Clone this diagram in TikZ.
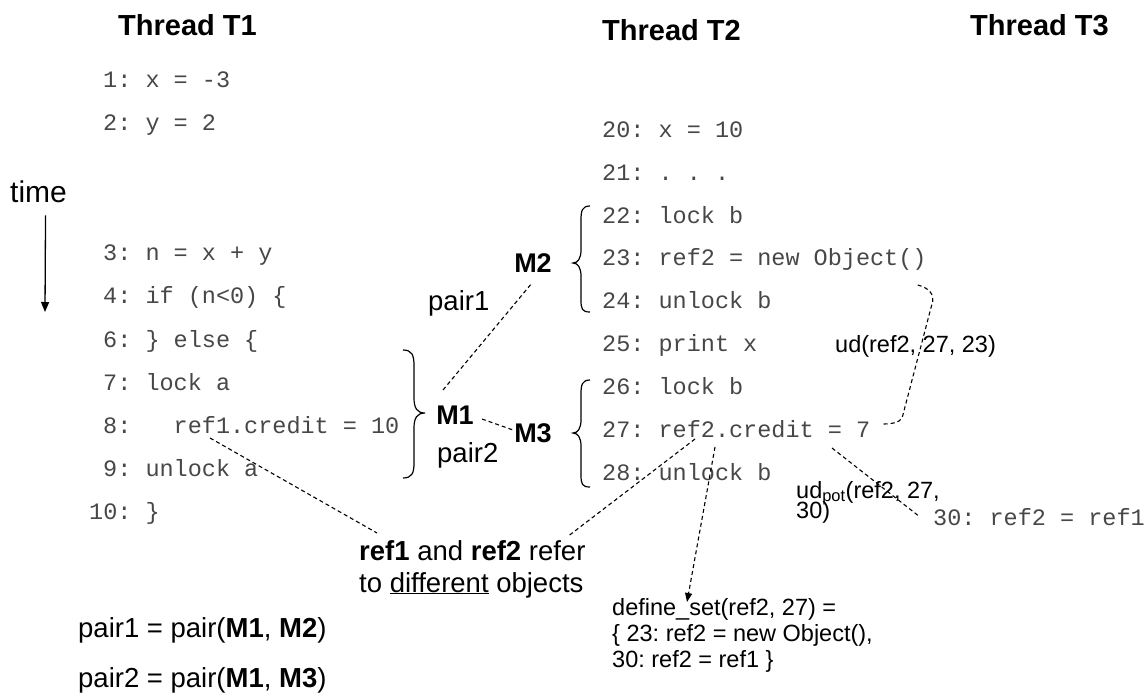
\documentclass[tikz,border=0pt]{standalone}
\usepackage{fontspec}
\setmainfont{Liberation Sans}
\newfontfamily\codefont{Liberation Mono}
\usetikzlibrary{calc,arrows.meta}
\frenchspacing
\tikzset{
  code/.style={font=\codefont\fontsize{23.5}{28}\selectfont\frenchspacing, text=black!72, inner sep=0pt, anchor=base west},
  lab/.style={font=\fontsize{27.5}{33}\selectfont\frenchspacing, inner sep=0pt, anchor=base west},
  sml/.style={font=\fontsize{23.5}{26}\selectfont\frenchspacing, inner sep=0pt, anchor=base west},
  ttl/.style={font=\bfseries\fontsize{29}{34}\selectfont, inner sep=0pt, anchor=base west},
  mlab/.style={font=\bfseries\fontsize{27}{32}\selectfont, inner sep=0pt},
  dsh/.style={dash pattern=on 4pt off 3pt, line width=1.1pt},
  brc/.style={line width=1.2pt},
}
\begin{document}
\begin{tikzpicture}[x=1pt,y=-1pt]
\useasboundingbox (0,0) rectangle (1147,693);
% titles
\node[ttl] (T1) at (118,36) {Thread T1};
\node[ttl] (T2) at (602,41) {Thread T2};
\node[ttl] (T3) at (970,36) {Thread T3};
% time
\node[lab, font=\fontsize{30}{34}\selectfont] (time) at (10,202) {time};
\coordinate (tend) at (45,312);
\draw[line width=1.3pt,-{Triangle[length=10pt,width=8pt]}] ($(time.south)+(7,13)$) -- (tend);
% thread 1
\node[code] (l1) at (103,87) {1: x = -3};
\node[code] (l2) at (103,130) {2: y = 2};
\node[code] (l3) at (103,260) {3: n = x + y};
\node[code] (l4) at (103,303) {4: if (n<0) \{};
\node[code] (l6) at (103,347) {6: \} else \{};
\node[code] (l7) at (103,390) {7: lock a};
\node[code] (l8) at (103,433) {8:\ \ \ ref1.credit = 10};
\node[code] (l9) at (103,476) {9: unlock a};
\node[code] (l10) at (89,519) {10: \}};
% thread 2
\node[code] (l20) at (602,137) {20: x = 10};
\node[code] (l21) at (602,180) {21: . . .};
\node[code] (l22) at (602,223) {22: lock b};
\node[code] (l23) at (602,265) {23: ref2 = new Object()};
\node[code] (l24) at (602,308) {24: unlock b};
\node[code] (l25) at (602,351) {25: print x};
\node[code] (l26) at (602,394) {26: lock b};
\node[code] (l27) at (602,437) {27: ref2.credit = 7};
\node[code] (l28) at (602,480) {28: unlock b};
% thread 3
\node[code] (l30) at (933,525) {30: ref2 = ref1};
% braces
\draw[brc] (403,350) .. controls (412,350) and (414,355) .. (414,366) -- (414,398)
  .. controls (414,408) and (417,413) .. (425,413)
  .. controls (417,413) and (414,418) .. (414,428) -- (414,463)
  .. controls (414,473) and (412,478) .. (403,478);
\draw[brc] (590,206) .. controls (582,206) and (581,211) .. (581,220) -- (581,250)
  .. controls (581,258) and (578,263) .. (573,263)
  .. controls (578,263) and (581,268) .. (581,276) -- (581,300)
  .. controls (581,309) and (582,312) .. (590,312);
\draw[brc] (590,380) .. controls (582,380) and (581,385) .. (581,394) -- (581,420)
  .. controls (581,428) and (578,433) .. (573,433)
  .. controls (578,433) and (581,438) .. (581,446) -- (581,475)
  .. controls (581,484) and (582,487) .. (590,487);
% M labels
\node[mlab] (M1) at (455,415) {M1};
\node[mlab] (M2) at (533,263) {M2};
\node[mlab] (M3) at (533,433) {M3};
\node[lab] (pair1) at (428,310) {pair1};
\node[lab] (pair2) at (437,462) {pair2};
\draw[dsh] ($(M1.center)+(-12,-25)$) -- ($(M2.center)+(-1,20)$);
\draw[dsh] ($(M1.center)+(27,4)$) -- ($(M3.center)+(-20,-3)$);
% note
\node[lab] (n1) at (359,560) {\textbf{ref1} and \textbf{ref2} refer};
\node[lab] (n2) at (359,592) {to \underline{different} objects};
\draw[dsh] ($(l8.base west)+(107,5)$) -- ($(n1.base west)+(18,-27)$);
\draw[dsh] ($(l27.base west)+(93,2)$) -- ($(n1.base east)+(-16,-25)$);
% define set
\node[sml] (d1) at (612,615) {define\_set(ref2, 27) =};
\node[sml] (d2) at (612,641) {\{ 23: ref2 = new Object(),};
\node[sml] (d3) at (612,667) {30: ref2 = ref1 \}};
\draw[dsh,-{Triangle[length=9pt,width=7pt]}] ($(l27.base west)+(113,10)$) -- ($(d1.base west)+(75,-13)$);
% ud
\node[sml] (ud) at (835,352) {ud(ref2, 27, 23)};
\draw[dsh] ($(l23.base east)+(-9,20)$) .. controls +(12,3) and +(1,-6) .. ($(l23.base east)+(6,36)$)
  -- ($(l27.base east)+(32,-20)$) .. controls +(-2,6) and +(8,0) .. ($(l27.base east)+(12,-13)$);
% udpot
\node[sml] (up1) at (796,498) {ud\textsubscript{pot}(ref2, 27,};
\node[sml] (up2) at (796,518) {30)};
\draw[dsh] ($(l27.base west)+(230,11)$) -- ($(l30.base west)+(-13,-8)$);
% pairs
\node[lab] (p1) at (78,637) {pair1 = pair(\textbf{M1}, \textbf{M2})};
\node[lab] (p2) at (78,687) {pair2 = pair(\textbf{M1}, \textbf{M3})};
\end{tikzpicture}
\end{document}
